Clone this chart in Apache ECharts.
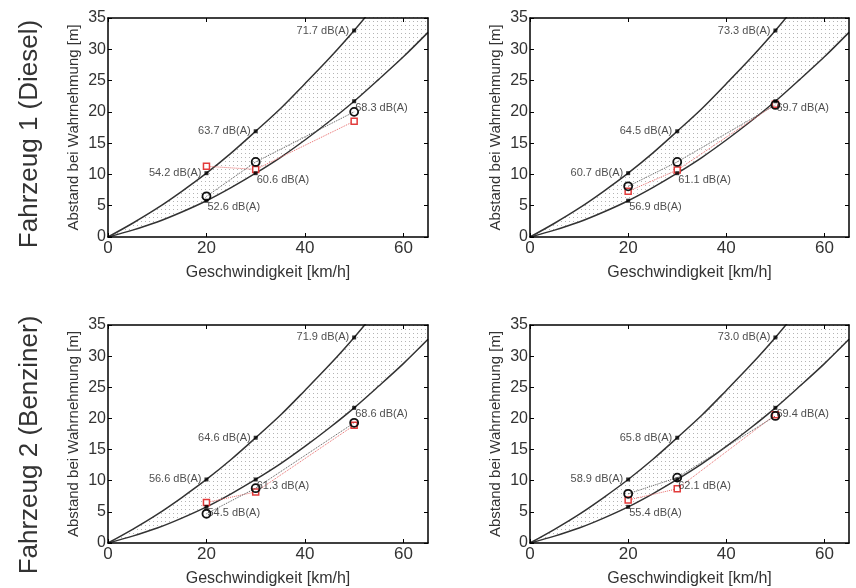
<!DOCTYPE html>
<html>
<head>
<meta charset="utf-8">
<script src="https://cdn.jsdelivr.net/npm/echarts@6/dist/echarts.min.js"></script>
<style>
  html, body { margin: 0; padding: 0; background: #fff; }
  #chart { width: 856px; height: 588px; }
</style>
</head>
<body>
<div id="chart"></div>
<script>
// Kurven
const curveX = [0, 5, 10, 15, 20, 25, 30, 35, 40, 45, 50, 55, 60, 65];
const upperY = [0, 2.2, 4.6, 7.3, 10.2, 13.4, 16.9, 20.5, 24.5, 28.6, 33, 37.8, 43, 48.5];
const lowerY = [0, 1.1, 2.4, 4.0, 5.8, 7.9, 10.2, 12.7, 15.5, 18.5, 21.7, 25.2, 28.8, 32.7];

// Messgeschwindigkeiten
const speeds = [20, 30, 50];
const upperPts = [10.2, 16.9, 33];
const lowerPts = [5.8, 10.2, 21.7];

// Panels: Fahrzeug 1 links/rechts, Fahrzeug 2 links/rechts
const upperLabels = [
  ["54.2", "63.7", "71.7"],
  ["60.7", "64.5", "73.3"],
  ["56.6", "64.6", "71.9"],
  ["58.9", "65.8", "73.0"],
];
const lowerLabels = [
  ["52.6", "60.6", "68.3"],
  ["56.9", "61.1", "69.7"],
  ["54.5", "61.3", "68.6"],
  ["55.4", "62.1", "69.4"],
];
const circleY = [
  [6.5, 12, 20],
  [8.1, 12, 21.1],
  [4.7, 8.8, 19.3],
  [7.9, 10.5, 20.4],
];
const squareY = [
  [11.3, 10.8, 18.5],
  [7.3, 10.7, 21.2],
  [6.5, 8.2, 18.9],
  [6.9, 8.7, 20.6],
];

const rowTitles = ["Fahrzeug 1 (Diesel)", "Fahrzeug 2 (Benziner)"];
const xName = "Geschwindigkeit [km/h]";
const yName = "Abstand bei Wahrnehmung [m]";

// Punktmuster für die Fläche
function dotPattern() {
  const c = document.createElement("canvas");
  c.width = 4;
  c.height = 4;
  const ctx = c.getContext("2d");
  ctx.fillStyle = "#fff";
  ctx.fillRect(0, 0, 4, 4);
  ctx.fillStyle = "#b4b4b4";
  ctx.fillRect(1, 1, 1, 1);
  return c;
}
const pattern = { image: dotPattern(), repeat: "repeat" };

const grids = [
  { left: 108, top: 18, width: 320, height: 219 },
  { left: 530, top: 18, width: 319, height: 219 },
  { left: 108, top: 325, width: 320, height: 221 },
  { left: 530, top: 325, width: 319, height: 221 },
];

const font = "Liberation Sans, Arial, sans-serif";
const xAxes = [];
const yAxes = [];
const series = [];

grids.forEach((g, i) => {
  const tick = { inside: true, length: 4, lineStyle: { color: "#000" } };
  xAxes.push({
    gridIndex: i,
    type: "value",
    min: 0,
    max: 65,
    interval: 20,
    z: 5,
    name: xName,
    nameLocation: "middle",
    nameGap: 28,
    nameTextStyle: { fontSize: 16, color: "#333", fontFamily: font },
    axisLine: { onZero: false, lineStyle: { color: "#000", width: 1.5 } },
    axisTick: { ...tick, customValues: [0, 20, 40, 60] },
    axisLabel: { fontSize: 17, color: "#333", fontFamily: font, margin: 3, customValues: [0, 20, 40, 60] },
    splitLine: { show: false },
  });
  xAxes.push({
    gridIndex: i,
    type: "value",
    position: "top",
    min: 0,
    max: 65,
    z: 5,
    axisLine: { onZero: false, lineStyle: { color: "#000", width: 1.5 } },
    axisTick: { ...tick, customValues: [0, 20, 40, 60] },
    axisLabel: { show: false },
    splitLine: { show: false },
  });
  yAxes.push({
    gridIndex: i,
    type: "value",
    min: 0,
    max: 35,
    interval: 5,
    z: 5,
    name: yName,
    nameLocation: "middle",
    nameGap: 27,
    nameTextStyle: { fontSize: 15, color: "#333", fontFamily: font },
    axisLine: { onZero: false, lineStyle: { color: "#000", width: 1.5 } },
    axisTick: tick,
    axisLabel: { fontSize: 16, color: "#333", fontFamily: font, margin: 2 },
    splitLine: { show: false },
  });
  yAxes.push({
    gridIndex: i,
    type: "value",
    position: "right",
    min: 0,
    max: 35,
    interval: 5,
    z: 5,
    axisLine: { onZero: false, lineStyle: { color: "#000", width: 1.5 } },
    axisTick: tick,
    axisLabel: { show: false },
    splitLine: { show: false },
  });

  const xi = i * 2;
  const yi = i * 2;
  // obere Kurve mit Punktfläche
  series.push({
    type: "line",
    xAxisIndex: xi,
    yAxisIndex: yi,
    data: curveX.map((x, k) => [x, upperY[k]]),
    smooth: 0.3,
    showSymbol: false,
    clip: true,
    z: 1,
    lineStyle: { color: "#333", width: 1.5 },
    areaStyle: { color: pattern, opacity: 1 },
    silent: true,
  });
  // untere Kurve, Fläche darunter weiß
  series.push({
    type: "line",
    xAxisIndex: xi,
    yAxisIndex: yi,
    data: curveX.map((x, k) => [x, lowerY[k]]),
    smooth: 0.3,
    showSymbol: false,
    clip: true,
    z: 2,
    lineStyle: { color: "#333", width: 1.5 },
    areaStyle: { color: "#fff", opacity: 1 },
    silent: true,
  });
  // gepunktete Verbindungen
  series.push({
    type: "line",
    xAxisIndex: xi,
    yAxisIndex: yi,
    data: speeds.map((x, k) => [x, squareY[i][k]]),
    symbol: "rect",
    symbolSize: 6,
    itemStyle: { color: "#fff", borderColor: "#e23b3b", borderWidth: 1.5 },
    lineStyle: { color: "#e86a6a", width: 1, type: "dotted" },
    z: 4,
  });
  series.push({
    type: "line",
    xAxisIndex: xi,
    yAxisIndex: yi,
    data: speeds.map((x, k) => [x, circleY[i][k]]),
    symbol: "circle",
    symbolSize: 8,
    itemStyle: { color: "rgba(255,255,255,0)", borderColor: "#111", borderWidth: 1.8 },
    lineStyle: { color: "#555", width: 1, type: "dotted" },
    z: 5,
  });
  // Messpunkte auf den Kurven mit Beschriftung
  series.push({
    type: "scatter",
    xAxisIndex: xi,
    yAxisIndex: yi,
    data: speeds.map((x, k) => [x, upperPts[k]]),
    symbol: "rect",
    symbolSize: 4,
    itemStyle: { color: "#000" },
    z: 6,
    label: {
      show: true,
      position: "left",
      distance: 3,
      fontSize: 11,
      color: "#222",
      fontFamily: font,
      formatter: (p) => upperLabels[i][p.dataIndex] + " dB(A)",
    },
  });
  series.push({
    type: "scatter",
    xAxisIndex: xi,
    yAxisIndex: yi,
    data: speeds.map((x, k) => [x, lowerPts[k]]),
    symbol: "rect",
    symbolSize: 4,
    itemStyle: { color: "#000" },
    z: 6,
    label: {
      show: true,
      position: [3, 3],
      align: "left",
      verticalAlign: "top",
      fontSize: 11,
      color: "#222",
      fontFamily: font,
      formatter: (p) => lowerLabels[i][p.dataIndex] + " dB(A)",
    },
  });
});

const myChart = echarts.init(document.querySelector("#chart"), null, { renderer: "canvas" });
myChart.setOption({
  animation: false,
  backgroundColor: "#fff",
  grid: grids,
  xAxis: xAxes,
  yAxis: yAxes,
  series: series,
  graphic: [
    {
      type: "text",
      x: 30,
      y: 134,
      rotation: Math.PI / 2,
      style: {
        text: rowTitles[0],
        fontSize: 26,
        fill: "#333",
        fontFamily: font,
        align: "center",
        verticalAlign: "middle",
      },
    },
    {
      type: "text",
      x: 30,
      y: 445,
      rotation: Math.PI / 2,
      style: {
        text: rowTitles[1],
        fontSize: 26,
        fill: "#333",
        fontFamily: font,
        align: "center",
        verticalAlign: "middle",
      },
    },
  ],
});
</script>
</body>
</html>
